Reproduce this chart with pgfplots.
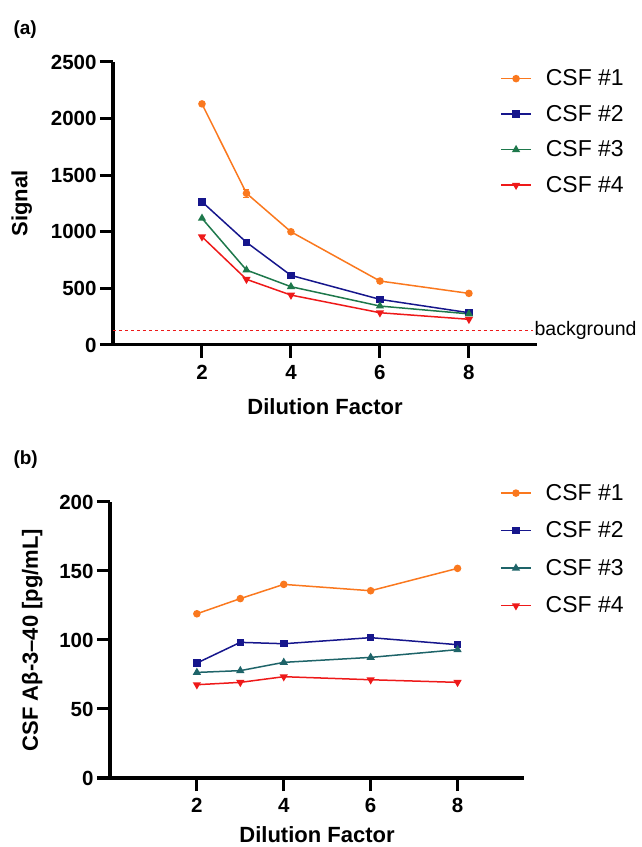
\documentclass[border=0pt]{standalone}
\usepackage{pgfplots}
\pgfplotsset{compat=1.18}
\usepackage{fontspec}
\setmainfont{Liberation Sans}
\definecolor{cOr}{RGB}{250,120,30}
\definecolor{cNv}{RGB}{22,22,140}
\definecolor{cGr}{RGB}{30,120,75}
\definecolor{cTl}{RGB}{30,100,105}
\definecolor{cRd}{RGB}{238,25,25}
\pgfplotsset{
 mystyle/.style={
  scale only axis,
  axis x line=bottom, axis y line=left,
  axis line style={line width=3bp, -},
  every tick/.style={line width=3bp, black},
  major tick length=13bp,
  tick align=outside,
  xmin=0, xmax=9.53, xtick={2,4,6,8},
  ymin=0,
  clip=false,
  tick label style={font=\fontsize{20.5bp}{24bp}\selectfont\bfseries},
  xticklabel style={yshift=-4bp},
  /pgf/number format/assume math mode=true,
  /pgf/number format/1000 sep={},
  label style={font=\fontsize{22bp}{26bp}\selectfont\bfseries},
  legend style={draw=none, fill=none, font=\fontsize{23bp}{27bp}\selectfont, anchor=north west, legend cell align=left, row sep=14bp, inner sep=0pt,
     /tikz/every odd column/.append style={column sep=12bp}},
  legend image code/.code={\draw[mark repeat=2,mark phase=2] plot coordinates {(0bp,0bp)(15bp,0bp)(30bp,0bp)};},
 },
 s1/.style={color=cOr, line width=1.5bp, mark=*, mark size=3bp, mark options={solid}},
 s2/.style={color=cNv, line width=1.5bp, mark=square*, mark size=3bp, mark options={solid}},
 s3/.style={color=#1, line width=1.5bp, mark=triangle*, mark size=3.3bp, mark options={solid}},
 s4/.style={color=cRd, line width=1.5bp, mark=triangle*, mark size=3.3bp, mark options={solid, rotate=180}},
}
\begin{document}
\begin{tikzpicture}
\path[use as bounding box] (0bp,0bp) rectangle (642bp,847bp);
\node[anchor=west, font=\fontsize{19bp}{22bp}\selectfont\bfseries] at (10bp,817bp) {(a)};
\node[anchor=west, font=\fontsize{19bp}{22bp}\selectfont\bfseries] at (10bp,387bp) {(b)};
\begin{axis}[mystyle,
  at={(113bp,502bp)}, anchor=south west,
  width=424bp, height=283bp,
  ymax=2500, ytick={0,500,1000,1500,2000,2500},
  xlabel={Dilution Factor}, ylabel={Signal},
  xlabel style={at={(axis description cs:0.5,-0.219)}, anchor=center},
  ylabel style={at={(axis description cs:-0.215,0.5)}, anchor=center},
  legend style={at={(0.913,0.98)}},
]
\addplot[s1, error bars/.cd, y dir=both, y explicit, error bar style={line width=1.2bp}, error mark options={rotate=90, mark size=3bp, line width=1.2bp}] coordinates {(2,2130) +- (0,0) (3,1340) +- (0,35) (4,1000) +- (0,0) (6,565) +- (0,0) (8,456) +- (0,0)};
\addplot[s2] coordinates {(2,1265) (3,907) (4,615) (6,403) (8,285)};
\addplot[s3=cGr] coordinates {(2,1119) (3,662) (4,515) (6,344) (8,275)};
\addplot[s4] coordinates {(2,956) (3,580) (4,441) (6,285) (8,227)};
\legend{CSF \#1, CSF \#2, CSF \#3, CSF \#4}
\addplot[cRd, line width=1.2bp, dashed, forget plot] coordinates {(0,125) (9.45,125)};
\node[anchor=west, inner sep=1bp, font=\fontsize{19.5bp}{23bp}\selectfont] at (axis cs:9.45,125) {background};
\end{axis}
\begin{axis}[mystyle,
  at={(110bp,69bp)}, anchor=south west,
  width=414bp, height=276bp,
  ymax=200, ytick={0,50,100,150,200},
  xlabel={Dilution Factor}, ylabel={CSF Aβ-3–40 [pg/mL]},
  xlabel style={at={(axis description cs:0.5,-0.205)}, anchor=center},
  ylabel style={at={(axis description cs:-0.188,0.5)}, anchor=center},
  legend style={at={(0.942,1.072)}, row sep=16bp},
]
\addplot[s1] coordinates {(2,119) (3,130) (4,140.3) (6,135.7) (8,151.9)};
\addplot[s2] coordinates {(2,83.3) (3,98.3) (4,97.3) (6,101.7) (8,96.6)};
\addplot[s3=cTl] coordinates {(2,76.5) (3,77.8) (4,83.8) (6,87.4) (8,93)};
\addplot[s4] coordinates {(2,67.6) (3,69.3) (4,73.4) (6,71.2) (8,69.3)};
\legend{CSF \#1, CSF \#2, CSF \#3, CSF \#4}
\end{axis}
\end{tikzpicture}
\end{document}
